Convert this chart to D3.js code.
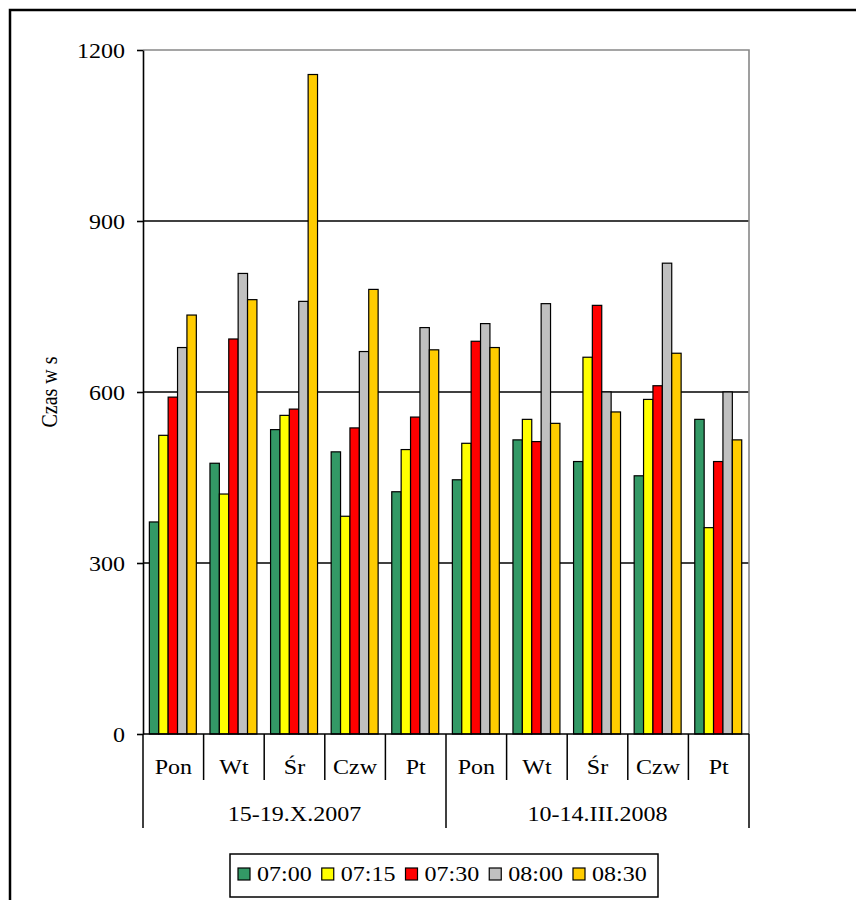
<!DOCTYPE html>
<html>
<head>
<meta charset="utf-8">
<script src="https://cdn.jsdelivr.net/npm/d3@7"></script>
<style>
  html, body { margin: 0; padding: 0; background: #fff; }
  svg { display: block; }
  text { font-family: "Liberation Serif", "Times New Roman", serif; fill: #000; }
</style>
</head>
<body>
<svg id="chart" width="856" height="900"></svg>
<script>
// ---------- data ----------
const days = ["Pon", "Wt", "Śr", "Czw", "Pt"];
const periods = ["15-19.X.2007", "10-14.III.2008"];
const categories = ["Pon|0", "Wt|0", "Śr|0", "Czw|0", "Pt|0", "Pon|1", "Wt|1", "Śr|1", "Czw|1", "Pt|1"];
const seriesNames = ["07:00", "07:15", "07:30", "08:00", "08:30"];
const s0700 = [372, 475, 534, 495, 425, 446, 516, 478, 453, 552];
const s0715 = [524, 421, 559, 382, 499, 510, 552, 661, 587, 362];
const s0730 = [591, 693, 570, 537, 556, 689, 513, 752, 611, 478];
const s0800 = [678, 808, 759, 671, 713, 720, 755, 600, 826, 600];
const s0830 = [735, 762, 1157, 780, 674, 678, 545, 565, 668, 516];
const seriesValues = [s0700, s0715, s0730, s0800, s0830];
const seriesColors = ["#339966", "#FFFF00", "#FF0000", "#C0C0C0", "#FFCC00"];
const yTicks = [0, 300, 600, 900, 1200];

// ---------- layout ----------
const svg = d3.select("#chart");
const L = 143, R = 749, T = 50, B = 734;
const SX = 1.2;          // horizontal stretch of the text, as in the original
const FS = 20;

const x0 = d3.scaleBand().domain(categories).range([L, R]).padding(0);
const x1 = d3.scaleBand().domain(seriesNames)
  .range([x0.bandwidth() * 0.105, x0.bandwidth() * 0.88]).padding(0);
const y = d3.scaleLinear().domain([0, 1200]).range([B, T]);

function stext(g, x, yy, str, anchor, size) {
  return g.append("text")
    .attr("transform", `translate(${x},${yy}) scale(${SX},1)`)
    .attr("text-anchor", anchor)
    .style("font-size", size + "px")
    .text(str);
}

// outer chart border
svg.append("rect").attr("x", 10).attr("y", 10).attr("width", 900).attr("height", 950)
  .attr("fill", "none").attr("stroke", "#000").attr("stroke-width", 2.5);

// gridlines
svg.append("g").selectAll("line").data(yTicks.filter(d => d > 0 && d < 1200)).join("line")
  .attr("x1", L).attr("x2", R).attr("y1", d => y(d)).attr("y2", d => y(d))
  .attr("stroke", "#000").attr("stroke-width", 1.3);

// plot area border (grey top and right)
svg.append("path")
  .attr("d", `M${L},${y(1200)}H${R}V${B}`)
  .attr("fill", "none").attr("stroke", "#888").attr("stroke-width", 1.6);

// bars
const barsG = svg.append("g");
seriesNames.forEach((name, si) => {
  barsG.append("g").selectAll("rect").data(seriesValues[si]).join("rect")
    .attr("x", (d, i) => x0(categories[i]) + x1(name))
    .attr("y", d => y(d))
    .attr("width", x1.bandwidth())
    .attr("height", d => y(0) - y(d))
    .attr("fill", seriesColors[si])
    .attr("stroke", "#000").attr("stroke-width", 1.2);
});

// y axis
const yAxis = svg.append("g").attr("transform", `translate(${L},0)`)
  .call(d3.axisLeft(y).tickValues(yTicks).tickFormat(d3.format("d")).tickSize(6).tickSizeOuter(0));
yAxis.select(".domain").attr("stroke", "#000").attr("stroke-width", 1.6);
yAxis.selectAll(".tick line").attr("stroke", "#000").attr("stroke-width", 1.6);
yAxis.selectAll(".tick text")
  .attr("x", 0).attr("dy", "0.36em")
  .attr("transform", `translate(-18,0) scale(${SX},1)`)
  .attr("text-anchor", "end")
  .style("font-family", '"Liberation Serif", "Times New Roman", serif')
  .style("font-size", FS + "px");

// y axis title
svg.append("text")
  .attr("transform", `translate(57,${(T + B) / 2}) rotate(-90) scale(1,${SX})`)
  .attr("text-anchor", "middle")
  .style("font-size", FS + "px")
  .text("Czas w s");

// x axis line
svg.append("line").attr("x1", L).attr("x2", R).attr("y1", B).attr("y2", B)
  .attr("stroke", "#000").attr("stroke-width", 1.6);

// category separators
const xg = svg.append("g");
const bounds = categories.map(c => x0(c)).concat([R]);
xg.selectAll("line").data(bounds).join("line")
  .attr("x1", d => d).attr("x2", d => d)
  .attr("y1", B)
  .attr("y2", (d, i) => (i % 5 === 0) ? 828 : 780)
  .attr("stroke", "#000").attr("stroke-width", 1.5);

// day labels
categories.forEach((c, i) => {
  stext(xg, x0(c) + x0.bandwidth() / 2, 774, days[i % 5], "middle", FS);
});
// period labels
periods.forEach((p, pi) => {
  const a = x0(categories[pi * 5]);
  const b = x0(categories[pi * 5 + 4]) + x0.bandwidth();
  stext(xg, (a + b) / 2, 821, p, "middle", FS);
});

// legend
const lg = svg.append("g");
lg.append("rect").attr("x", 230).attr("y", 854).attr("width", 428).attr("height", 43)
  .attr("fill", "#fff").attr("stroke", "#000").attr("stroke-width", 1.5);
const lx = d3.scalePoint().domain(seriesNames).range([238, 573]);
seriesNames.forEach((name, si) => {
  lg.append("rect").attr("x", lx(name)).attr("y", 868).attr("width", 12).attr("height", 12)
    .attr("fill", seriesColors[si]).attr("stroke", "#000").attr("stroke-width", 1.2);
  stext(lg, lx(name) + 19, 881, name, "start", FS);
});
</script>
</body>
</html>
